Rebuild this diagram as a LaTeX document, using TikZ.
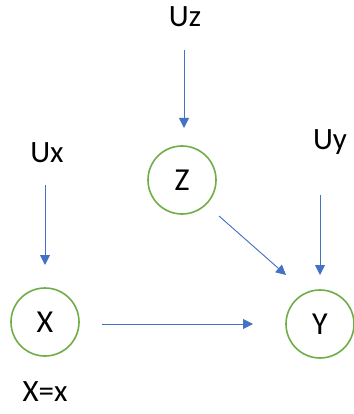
\documentclass[tikz,border=0pt]{standalone}
\usepackage{fontspec}
\setmainfont{Carlito}
\usetikzlibrary{arrows.meta}
\definecolor{cgreen}{HTML}{70AD47}
\definecolor{cblue}{HTML}{4472C4}
\begin{document}
\begin{tikzpicture}[x=1pt,y=-1pt,
  var/.style={circle,draw=cgreen,line width=1.6pt,minimum size=68pt,inner sep=0pt,font=\fontsize{32}{36}\selectfont},
  lab/.style={inner sep=0pt,font=\fontsize{31}{36}\selectfont},
  arr/.style={draw=cblue,line width=0.9pt,-{Triangle[width=10pt,length=10pt]},fill=cblue},
  pt/.style={inner sep=0pt,minimum size=0pt}]
\useasboundingbox (0,0) rectangle (353,414);
\node[var] (Z) at (182,180) {Z};
\node[var] (X) at (45,322) {X};
\node[var] (Y) at (320,324) {Y};
\node[lab] (Uz) at (185,17) {Uz};
\node[lab] (Ux) at (47,153) {Ux};
\node[lab] (Uy) at (330,142) {Uy};
\node[lab] (Xx) at (45,392) {X=x};
\coordinate (uzs) at (184,50);
\coordinate (uze) at (184,128);
\coordinate (uxs) at (45,185);
\coordinate (uxe) at (45,265);
\coordinate (uys) at (320,195);
\coordinate (uye) at (320,275);
\coordinate (xys) at (102,324);
\coordinate (xye) at (253,324);
\coordinate (zys) at (219,216);
\coordinate (zye) at (286,275);
\draw[arr] (uzs) -- (uze);
\draw[arr] (uxs) -- (uxe);
\draw[arr] (uys) -- (uye);
\draw[arr] (xys) -- (xye);
\draw[arr] (zys) -- (zye);
\end{tikzpicture}
\end{document}
